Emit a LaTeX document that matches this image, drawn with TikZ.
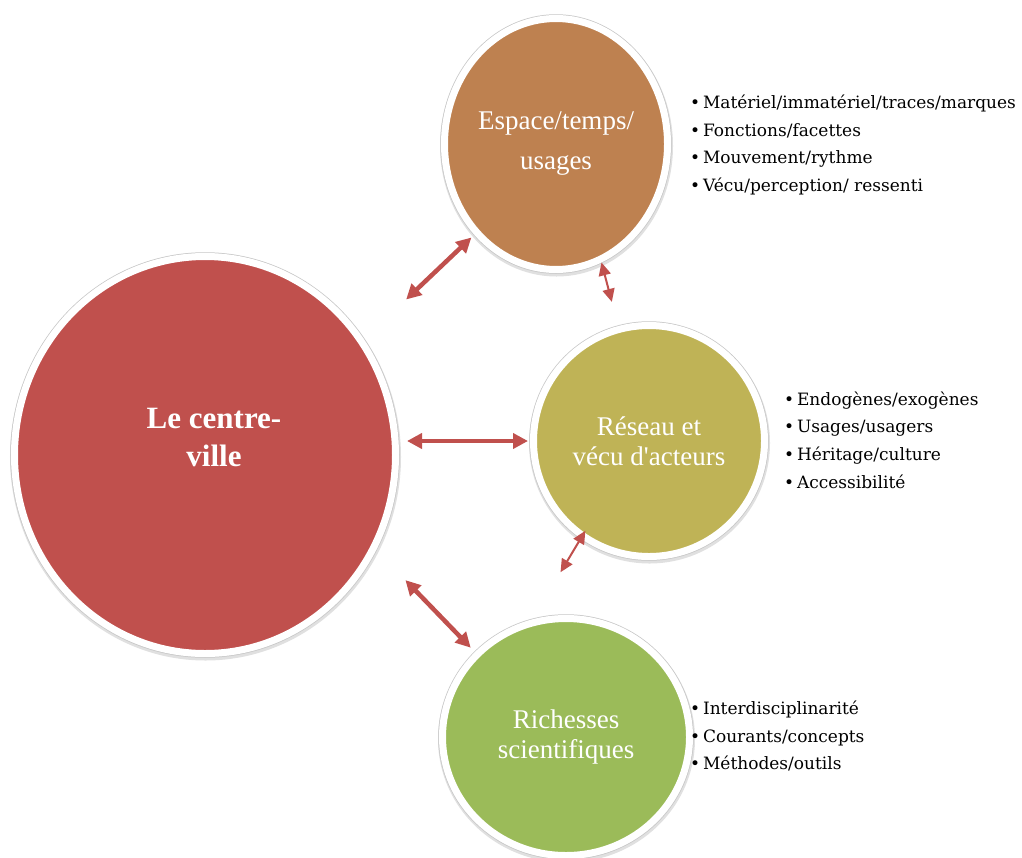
\documentclass[tikz,border=0pt]{standalone}
\usepackage{fontspec}
\setmainfont{Liberation Serif}
\newfontfamily\listfont{DejaVu Serif}
\usetikzlibrary{arrows.meta, shapes.geometric}
\definecolor{cvred}{HTML}{C0504D}
\definecolor{cvbrown}{HTML}{BE8150}
\definecolor{cvolive}{HTML}{BFB356}
\definecolor{cvgreen}{HTML}{9BBB59}
\definecolor{cvarrow}{HTML}{C0504D}

\begin{document}
\begin{tikzpicture}[x=1pt, y=-1pt,
  bubble/.style={ellipse, draw=white, line width=7pt, fill=#1, inner sep=0pt, text=white, align=center, font=\fontsize{27}{30}\selectfont, preaction={draw=black!12, line width=10pt, transform canvas={xshift=0.5pt, yshift=-2pt}}, preaction={draw=black!22, line width=8.5pt}},
  itemlist/.style={anchor=west, align=left, inner sep=0pt, font=\listfont\fontsize{17}{27.7}\selectfont},
  bigarrow/.style={arrows={Triangle[length=15pt,width=15pt]-Triangle[length=15pt,width=15pt]}, cvarrow, line width=4.5pt},
  smallarrow/.style={arrows={Triangle[length=13pt,width=12pt]-Triangle[length=13pt,width=12pt]}, cvarrow, line width=2pt},
]
\fill[white] (0,0) rectangle (1022,857);
\useasboundingbox (0,0) rectangle (1022,857);

% Centre
\node[bubble=cvred, minimum width=381pt, minimum height=397pt] (centre) at (205,455) {};
\node[text=white, align=center, font=\bfseries\fontsize{31}{38}\selectfont] (centretxt) at (214,437) {Le centre-\\ville};

% Satellites
\node[bubble=cvbrown, minimum width=223pt, minimum height=251pt, font=\fontsize{27}{40}\selectfont] (espace) at (556,144) {Espace/temps/\\usages};
\node[bubble=cvolive, minimum width=231pt, minimum height=231pt] (reseau) at (649,441) {Réseau et\\vécu d\textquotesingle acteurs};
\node[bubble=cvgreen, minimum width=247pt, minimum height=237pt] (richesses) at (566,737) {Richesses\\scientifiques};

% Lists
\node[itemlist] (espacelist) at (690,145) {\textbullet\,Matériel/immatériel/traces/marques\\\textbullet\,Fonctions/facettes\\\textbullet\,Mouvement/rythme\\\textbullet\,Vécu/perception/ ressenti};
\node[itemlist] (reseaulist) at (784,440) {\textbullet\,Endogènes/exogènes\\\textbullet\,Usages/usagers\\\textbullet\,Héritage/culture\\\textbullet\,Accessibilité};
\node[itemlist] (richesseslist) at (690,736) {\textbullet\,Interdisciplinarité\\\textbullet\,Courants/concepts\\\textbullet\,Méthodes/outils};

% Connections
\draw[bigarrow, shorten <=58pt, shorten >=4pt] (centre.36) -- (espace.228);
\draw[bigarrow, shorten <=8pt, shorten >=2pt] (centre.east |- reseau.west) -- (reseau.west);
\draw[bigarrow, shorten <=42pt, shorten >=6pt] (centre.331.5) -- (richesses.137);
\draw[smallarrow, shorten >=25pt] (espace.291) -- (reseau.105);
\draw[smallarrow, shorten <=-9pt, shorten >=55pt] (reseau.235) -- (richesses.106);

\end{tikzpicture}
\end{document}
